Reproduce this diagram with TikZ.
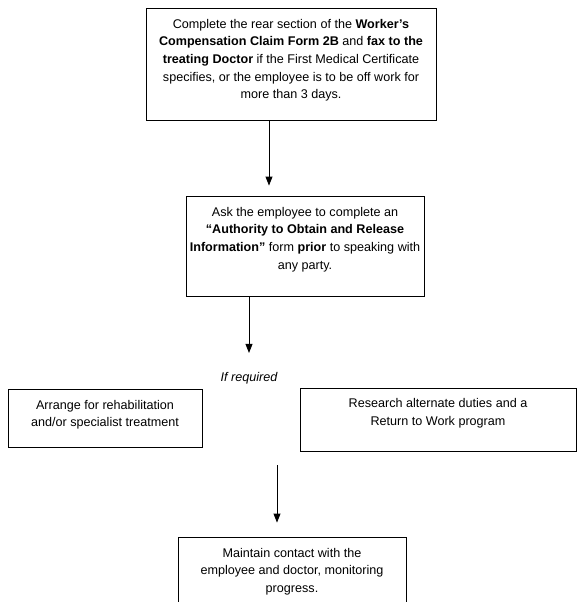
\documentclass[tikz,border=0pt]{standalone}
\usepackage{fontspec}
\setmainfont{Liberation Sans}
\usepackage{tikz}
\usetikzlibrary{calc,positioning,arrows.meta}

\begin{document}
\begin{tikzpicture}[
    x=1pt, y=-1pt,
    font=\fontsize{12.6}{17.6}\selectfont,
    stepbox/.style={rectangle, draw=black, line width=0.9pt, inner sep=0pt},
    boxtext/.style={anchor=north, align=center, inner sep=0pt},
    flow/.style={-{Triangle[length=9pt,width=7pt]}, line width=0.9pt}
]
\useasboundingbox (0,0) rectangle (579,602);
\clip (0,0) rectangle (579,602);

\node[stepbox, minimum width=290pt, minimum height=112pt] (Claim) at (291,64) {};
\node[boxtext] (ClaimText) at ([yshift=-11.5pt]Claim.north) {Complete the rear section of the \textbf{Worker’s}\\
\textbf{Compensation Claim Form 2B} and \textbf{fax to the}\\
\textbf{treating Doctor} if the First Medical Certificate\\
specifies, or the employee is to be off work for\\
more than 3 days.};

\node[stepbox, minimum width=238pt, minimum height=100pt] (Authority) at (305,246) {};
\node[boxtext] (AuthorityText) at ([yshift=-11.5pt]Authority.north) {Ask the employee to complete an\\
\textbf{“Authority to Obtain and Release}\\
\textbf{Information”} form \textbf{prior} to speaking with\\
any party.};

\node[inner sep=0pt, font=\fontsize{12.6}{17.6}\selectfont\itshape] (Required) at (249,378) {If required};

\node[stepbox, minimum width=194pt, minimum height=58pt] (Rehab) at (105,418) {};
\node[boxtext] (RehabText) at ([yshift=-11.5pt]Rehab.north) {Arrange for rehabilitation\\
and/or specialist treatment};

\node[stepbox, minimum width=276pt, minimum height=63pt] (Research) at (438,419.5) {};
\node[boxtext] (ResearchText) at ([yshift=-11pt]Research.north) {Research alternate duties and a\\
Return to Work program};

\node[stepbox, minimum width=228pt, minimum height=90pt] (Contact) at (292,582) {};
\node[boxtext] (ContactText) at ([yshift=-11.5pt]Contact.north) {Maintain contact with the\\
employee and doctor, monitoring\\
progress.};

\coordinate (FirstX) at (269,0);
\coordinate (SecondX) at (249,0);
\coordinate (Branch) at (277,465);

\draw[flow, shorten >=10pt] (Claim.south -| FirstX) -- (Authority.north -| FirstX);
\draw[flow, shorten >=19pt] (Authority.south -| SecondX) -- (Required.north);
\draw[flow, shorten >=14pt] (Branch) -- (Contact.north -| Branch);
\end{tikzpicture}
\end{document}
